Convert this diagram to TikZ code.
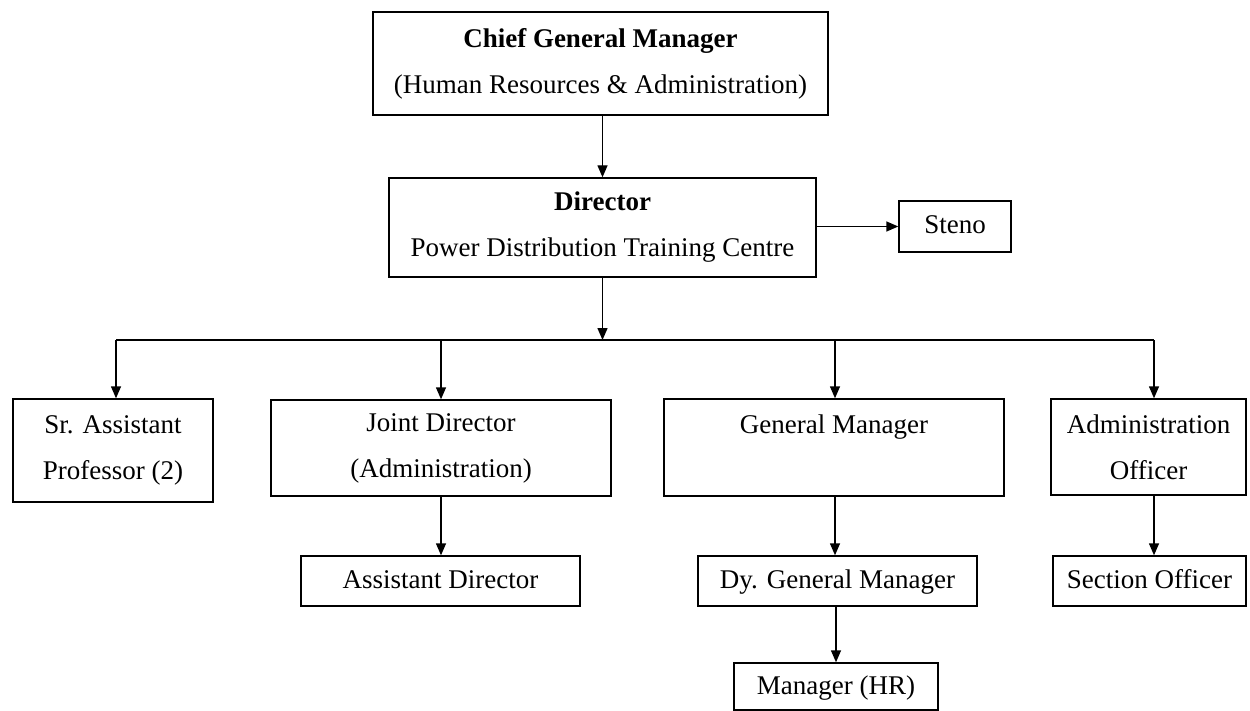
\documentclass[tikz,border=0pt]{standalone}
\usepackage{fontspec}
\setmainfont{Liberation Serif}
\usetikzlibrary{arrows.meta}
\begin{document}
\begin{tikzpicture}[x=1pt,y=-1pt,
  font=\fontsize{27}{46}\selectfont,
  box/.style={draw, line width=1.4pt, rectangle, align=center, inner sep=0pt,
    minimum width=#1},
  oneline/.style={text height=21pt, text depth=6pt},
  link/.style={line width=1.4pt, -{Triangle[length=12pt,width=10pt]}},
  bus/.style={line width=1.4pt}]
\useasboundingbox (0,0) rectangle (1250,711);

% top of the chart
\node[box=455, minimum height=103] (chief) at (600.5,63.5)
  {\textbf{Chief General Manager}\\(Human Resources \& Administration)};
\node[box=427, minimum height=99] (dir) at (602.5,227.5)
  {\textbf{Director}\\Power Distribution Training Centre};
\node[box=112, minimum height=51, oneline] (steno) at (955,226.5) {Steno};

% second level
\node[box=200, minimum height=103] (sr) at (113,450.5) {Sr. Assistant\\Professor (2)};
\node[box=340, minimum height=96] (jd) at (441,448) {Joint Director\\(Administration)};
\node[box=340, minimum height=97] (gm) at (834,447.5) {};
\node[oneline, inner sep=0pt] at (834,426) {General Manager};
\node[box=195, minimum height=96] (ao) at (1148.5,447) {Administration\\Officer};

% third and fourth level
\node[box=279, minimum height=50, oneline] (ad) at (440.5,581) {Assistant Director};
\node[box=279, minimum height=50, oneline] (dgm) at (837.5,581) {Dy. General Manager};
\node[box=193, minimum height=50, oneline] (so) at (1149.5,581) {Section Officer};
\node[box=204, minimum height=47, oneline] (mhr) at (836,686.5) {Manager (HR)};

% distribution bus under the Director
\coordinate (busD) at (602.5,340);
\coordinate (bus1) at (116,340);
\coordinate (bus2) at (441,340);
\coordinate (bus3) at (835,340);
\coordinate (bus4) at (1154,340);
\coordinate (steA) at (816,226.5);

% connectors
\draw[link] (dir.north |- chief.south) -- (dir.north);
\draw[link] (dir.south) -- (busD);
\draw[link] (dir.east |- steA) -- (steno.west);
\draw[bus] (bus1) -- (bus4);
\draw[link] (bus1) -- (bus1 |- sr.north);
\draw[link] (bus2) -- (bus2 |- jd.north);
\draw[link] (bus3) -- (bus3 |- gm.north);
\draw[link] (bus4) -- (bus4 |- ao.north);
\draw[link] (jd.south) -- (jd.south |- ad.north);
\draw[link] (bus3 |- gm.south) -- (bus3 |- dgm.north);
\draw[link] (bus4 |- ao.south) -- (bus4 |- so.north);
\draw[link] (dgm.south -| mhr.north) -- (mhr.north);
\end{tikzpicture}
\end{document}
